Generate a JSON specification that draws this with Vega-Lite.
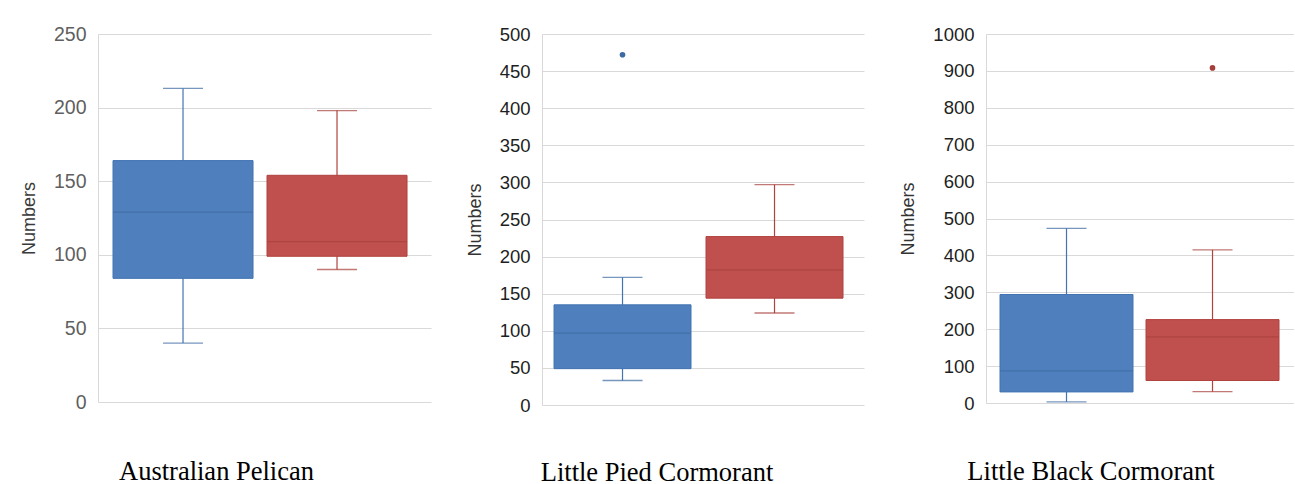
{
  "$schema": "https://vega.github.io/schema/vega-lite/v6.json",
  "background": "white",
  "padding": {"left": 20, "top": 24, "right": 0, "bottom": 0},
  "spacing": 35,
  "datasets": {
    "stats": [
      {"species": "Australian Pelican", "group": "Group A", "lower": 40, "q1": 84, "median": 129, "q3": 164, "upper": 213},
      {"species": "Australian Pelican", "group": "Group B", "lower": 90, "q1": 99, "median": 109, "q3": 154, "upper": 198},
      {"species": "Little Pied Cormorant", "group": "Group A", "lower": 33, "q1": 49, "median": 97, "q3": 135, "upper": 172},
      {"species": "Little Pied Cormorant", "group": "Group B", "lower": 124, "q1": 144, "median": 182, "q3": 227, "upper": 297},
      {"species": "Little Black Cormorant", "group": "Group A", "lower": 3, "q1": 30, "median": 87, "q3": 294, "upper": 473},
      {"species": "Little Black Cormorant", "group": "Group B", "lower": 31, "q1": 61, "median": 179, "q3": 226, "upper": 415}
    ],
    "outliers": [
      {"species": "Little Pied Cormorant", "group": "Group A", "value": 472},
      {"species": "Little Black Cormorant", "group": "Group B", "value": 908}
    ]
  },
  "hconcat": [
    {
      "width": 333, "height": 368,
      "title": {"text": "Australian Pelican", "orient": "bottom", "frame": "group", "anchor": "middle", "dx": -48, "offset": 47},
      "data": {"name": "stats"},
      "transform": [{"filter": "datum.species === 'Australian Pelican'"}],
      "encoding": {
        "x": {"field": "group", "type": "nominal", "axis": null, "scale": {"type": "band", "paddingInner": 0.0909, "paddingOuter": 0.1266, "align": 0.385}}
      },
      "layer": [
        {
          "mark": {"type": "rule", "strokeWidth": 1.2},
          "encoding": {
            "y": {"field": "lower", "type": "quantitative", "title": "Numbers", "scale": {"domain": [0, 250], "nice": false, "zero": true}, "axis": {"values": [0, 50, 100, 150, 200, 250], "labelColor": "#5f5f5f", "labelFontSize": 19.5, "titleColor": "#3a3a3a"}},
            "y2": {"field": "upper"},
            "stroke": {"field": "group", "type": "nominal", "legend": null, "scale": {"range": ["#4274b2", "#b0423f"]}}
          }
        },
        {
          "mark": {"type": "bar", "strokeWidth": 1},
          "encoding": {
            "y": {"field": "q1", "type": "quantitative", "title": "Numbers"},
            "y2": {"field": "q3"},
            "fill": {"field": "group", "type": "nominal", "legend": null, "scale": {"range": ["#4f7fbc", "#c0504d"]}},
            "stroke": {"field": "group", "type": "nominal", "legend": null}
          }
        },
        {
          "mark": {"type": "tick", "size": 140, "thickness": 1.3, "orient": "horizontal"},
          "encoding": {
            "y": {"field": "median", "type": "quantitative", "title": "Numbers"},
            "color": {"field": "group", "type": "nominal", "legend": null, "scale": {"range": ["#3d6aa3", "#a63f3c"]}}
          }
        },
        {
          "mark": {"type": "tick", "size": 40, "thickness": 1.3, "orient": "horizontal"},
          "encoding": {
            "y": {"field": "lower", "type": "quantitative", "title": "Numbers"},
            "color": {"field": "group", "type": "nominal", "legend": null}
          }
        },
        {
          "mark": {"type": "tick", "size": 40, "thickness": 1.3, "orient": "horizontal"},
          "encoding": {
            "y": {"field": "upper", "type": "quantitative", "title": "Numbers"},
            "color": {"field": "group", "type": "nominal", "legend": null}
          }
        }
      ]
    },
    {
      "width": 322, "height": 371,
      "title": {"text": "Little Pied Cormorant", "orient": "bottom", "frame": "group", "anchor": "middle", "dx": -46, "offset": 45},
      "encoding": {
        "x": {"field": "group", "type": "nominal", "axis": null, "scale": {"type": "band", "paddingInner": 0.0987, "paddingOuter": 0.1086, "align": 0.364}}
      },
      "layer": [
        {
          "data": {"name": "stats"},
          "transform": [{"filter": "datum.species === 'Little Pied Cormorant'"}],
          "layer": [
            {
              "mark": {"type": "rule", "strokeWidth": 1.2},
              "encoding": {
                "y": {"field": "lower", "type": "quantitative", "title": "Numbers", "scale": {"domain": [0, 500], "nice": false, "zero": true}, "axis": {"values": [0, 50, 100, 150, 200, 250, 300, 350, 400, 450, 500], "labelOverlap": false}},
                "y2": {"field": "upper"},
                "stroke": {"field": "group", "type": "nominal", "legend": null, "scale": {"range": ["#4274b2", "#b0423f"]}}
              }
            },
            {
              "mark": {"type": "bar", "strokeWidth": 1},
              "encoding": {
                "y": {"field": "q1", "type": "quantitative", "title": "Numbers", "axis": {"values": [0, 50, 100, 150, 200, 250, 300, 350, 400, 450, 500], "labelOverlap": false}},
                "y2": {"field": "q3"},
                "fill": {"field": "group", "type": "nominal", "legend": null, "scale": {"range": ["#4f7fbc", "#c0504d"]}},
                "stroke": {"field": "group", "type": "nominal", "legend": null}
              }
            },
            {
              "mark": {"type": "tick", "size": 137, "thickness": 1.3, "orient": "horizontal"},
              "encoding": {
                "y": {"field": "median", "type": "quantitative", "title": "Numbers", "axis": {"values": [0, 50, 100, 150, 200, 250, 300, 350, 400, 450, 500], "labelOverlap": false}},
                "color": {"field": "group", "type": "nominal", "legend": null, "scale": {"domain": ["Group A", "Group B"], "range": ["#3d6aa3", "#a63f3c"]}}
              }
            },
            {
              "mark": {"type": "tick", "size": 40, "thickness": 1.3, "orient": "horizontal"},
              "encoding": {
                "y": {"field": "lower", "type": "quantitative", "title": "Numbers", "axis": {"values": [0, 50, 100, 150, 200, 250, 300, 350, 400, 450, 500], "labelOverlap": false}},
                "color": {"field": "group", "type": "nominal", "legend": null}
              }
            },
            {
              "mark": {"type": "tick", "size": 40, "thickness": 1.3, "orient": "horizontal"},
              "encoding": {
                "y": {"field": "upper", "type": "quantitative", "title": "Numbers", "axis": {"values": [0, 50, 100, 150, 200, 250, 300, 350, 400, 450, 500], "labelOverlap": false}},
                "color": {"field": "group", "type": "nominal", "legend": null}
              }
            }
          ]
        },
        {
          "data": {"name": "outliers"},
          "transform": [{"filter": "datum.species === 'Little Pied Cormorant'"}],
          "mark": {"type": "point", "filled": true, "opacity": 1, "size": 32},
          "encoding": {
            "y": {"field": "value", "type": "quantitative", "title": "Numbers", "axis": {"values": [0, 50, 100, 150, 200, 250, 300, 350, 400, 450, 500], "labelOverlap": false}},
            "color": {"field": "group", "type": "nominal", "legend": null}
          }
        }
      ]
    },
    {
      "width": 308, "height": 369,
      "title": {"text": "Little Black Cormorant", "orient": "bottom", "frame": "group", "anchor": "middle", "dx": -49, "offset": 46},
      "encoding": {
        "x": {"field": "group", "type": "nominal", "axis": null, "scale": {"type": "band", "paddingInner": 0.089, "paddingOuter": 0.0993, "align": 0.483}}
      },
      "layer": [
        {
          "data": {"name": "stats"},
          "transform": [{"filter": "datum.species === 'Little Black Cormorant'"}],
          "layer": [
            {
              "mark": {"type": "rule", "strokeWidth": 1.2},
              "encoding": {
                "y": {"field": "lower", "type": "quantitative", "title": "Numbers", "scale": {"domain": [0, 1000], "nice": false, "zero": true}, "axis": {"values": [0, 100, 200, 300, 400, 500, 600, 700, 800, 900, 1000], "labelOverlap": false}},
                "y2": {"field": "upper"},
                "stroke": {"field": "group", "type": "nominal", "legend": null, "scale": {"range": ["#4274b2", "#b0423f"]}}
              }
            },
            {
              "mark": {"type": "bar", "strokeWidth": 1},
              "encoding": {
                "y": {"field": "q1", "type": "quantitative", "title": "Numbers", "axis": {"values": [0, 100, 200, 300, 400, 500, 600, 700, 800, 900, 1000], "labelOverlap": false}},
                "y2": {"field": "q3"},
                "fill": {"field": "group", "type": "nominal", "legend": null, "scale": {"range": ["#4f7fbc", "#c0504d"]}},
                "stroke": {"field": "group", "type": "nominal", "legend": null}
              }
            },
            {
              "mark": {"type": "tick", "size": 133, "thickness": 1.3, "orient": "horizontal"},
              "encoding": {
                "y": {"field": "median", "type": "quantitative", "title": "Numbers", "axis": {"values": [0, 100, 200, 300, 400, 500, 600, 700, 800, 900, 1000], "labelOverlap": false}},
                "color": {"field": "group", "type": "nominal", "legend": null, "scale": {"domain": ["Group A", "Group B"], "range": ["#3d6aa3", "#a63f3c"]}}
              }
            },
            {
              "mark": {"type": "tick", "size": 40, "thickness": 1.3, "orient": "horizontal"},
              "encoding": {
                "y": {"field": "lower", "type": "quantitative", "title": "Numbers", "axis": {"values": [0, 100, 200, 300, 400, 500, 600, 700, 800, 900, 1000], "labelOverlap": false}},
                "color": {"field": "group", "type": "nominal", "legend": null}
              }
            },
            {
              "mark": {"type": "tick", "size": 40, "thickness": 1.3, "orient": "horizontal"},
              "encoding": {
                "y": {"field": "upper", "type": "quantitative", "title": "Numbers", "axis": {"values": [0, 100, 200, 300, 400, 500, 600, 700, 800, 900, 1000], "labelOverlap": false}},
                "color": {"field": "group", "type": "nominal", "legend": null}
              }
            }
          ]
        },
        {
          "data": {"name": "outliers"},
          "transform": [{"filter": "datum.species === 'Little Black Cormorant'"}],
          "mark": {"type": "point", "filled": true, "opacity": 1, "size": 32},
          "encoding": {
            "y": {"field": "value", "type": "quantitative", "title": "Numbers", "axis": {"values": [0, 100, 200, 300, 400, 500, 600, 700, 800, 900, 1000], "labelOverlap": false}},
            "color": {"field": "group", "type": "nominal", "legend": null}
          }
        }
      ]
    }
  ],
  "config": {
    "view": {"stroke": null},
    "font": "Liberation Sans",
    "axisY": {
      "grid": true, "gridColor": "#d9d9d9", "gridWidth": 1,
      "domain": true, "domainColor": "#d9d9d9", "domainWidth": 1,
      "ticks": false, "labelPadding": 12, "labelOverlap": false, "format": "d",
      "labelFont": "Liberation Sans", "labelFontSize": 18.5, "labelColor": "#1e1e1e",
      "titleFont": "Liberation Sans", "titleFontSize": 18, "titleFontWeight": "normal", "titleColor": "#333333", "titlePadding": 15
    },
    "title": {"font": "Liberation Serif", "fontSize": 26.5, "fontWeight": "normal", "color": "#000000", "baseline": "alphabetic"}
  }
}
